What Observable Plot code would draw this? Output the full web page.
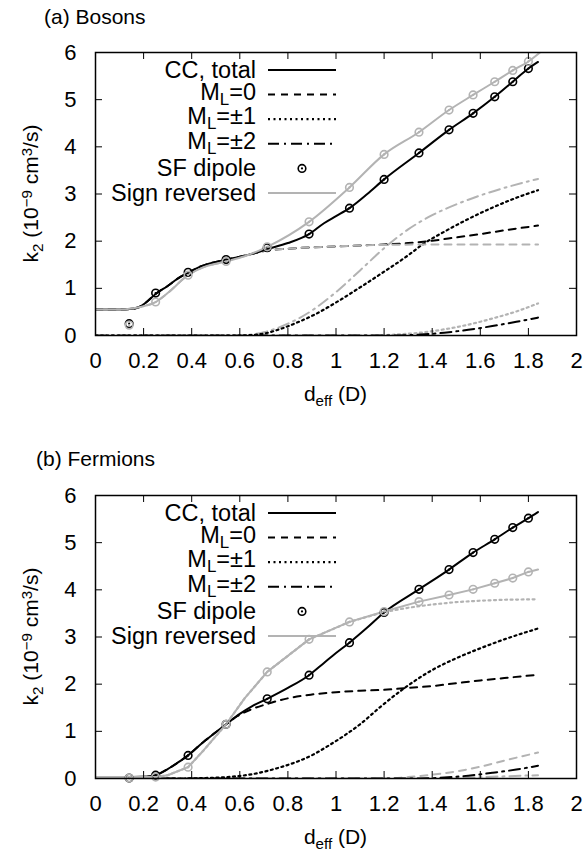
<!DOCTYPE html>
<html><head><meta charset="utf-8">
<script src="https://cdn.jsdelivr.net/npm/d3@7"></script>
<script src="https://cdn.jsdelivr.net/npm/@observablehq/plot@0.6"></script>
<style>
body{margin:0;background:#fff;font-family:"Liberation Sans",Arial,sans-serif}
#wrap{width:586px;height:856px;overflow:hidden}
#wrap svg{display:block}
</style></head>
<body><div id="wrap"></div>
<script>
// ---------- shared axes / ticks ----------
const xTicks = [0, 0.2, 0.4, 0.6, 0.8, 1, 1.2, 1.4, 1.6, 1.8, 2];
const xTickLabels = ["0","0.2","0.4","0.6","0.8","1","1.2","1.4","1.6","1.8","2"];
const yTicks = [0, 1, 2, 3, 4, 5, 6];
const yTickLabels = ["0","1","2","3","4","5","6"];
const legendLabels = ["CC, total", "M_L=0", "M_L=±1", "M_L=±2", "SF dipole", "Sign reversed"];
const panelTitles = ["(a) Bosons", "(b) Fermions"];

// SF dipole positions (deff, D)
const sfX = [0.14, 0.25, 0.385, 0.543, 0.714, 0.888, 1.056, 1.2, 1.345, 1.47, 1.57, 1.66, 1.735, 1.80];

// ---------- (a) Bosons ----------
const bosSF      = [0.25, 0.90, 1.34, 1.61, 1.86, 2.15, 2.70, 3.31, 3.87, 4.36, 4.71, 5.06, 5.38, 5.66];
const bosSFRev   = [0.22, 0.71, 1.28, 1.57, 1.88, 2.41, 3.14, 3.84, 4.31, 4.78, 5.10, 5.38, 5.62, 5.81];
const bosTotal   = [[0,0.55],[0.1,0.55],[0.14,0.56],[0.18,0.6],[0.21,0.7],[0.25,0.88],[0.3,1.05],[0.34,1.2],[0.385,1.33],[0.44,1.47],[0.5,1.56],[0.543,1.61],[0.6,1.67],[0.65,1.73],[0.714,1.83],[0.8,1.96],[0.888,2.15],[0.95,2.38],[1.0,2.53],[1.056,2.70],[1.13,3.0],[1.2,3.31],[1.345,3.87],[1.47,4.36],[1.57,4.71],[1.66,5.06],[1.735,5.38],[1.80,5.66],[1.84,5.8]];
const bosTotalRev= [[0,0.55],[0.1,0.55],[0.15,0.57],[0.2,0.62],[0.25,0.71],[0.3,0.9],[0.385,1.28],[0.45,1.45],[0.543,1.57],[0.62,1.68],[0.714,1.88],[0.888,2.41],[1.056,3.14],[1.2,3.84],[1.345,4.31],[1.47,4.78],[1.57,5.10],[1.66,5.38],[1.735,5.62],[1.80,5.81],[1.86,6.05]];
const bosML0     = [[0,0.55],[0.1,0.55],[0.14,0.56],[0.18,0.6],[0.21,0.7],[0.25,0.88],[0.3,1.05],[0.34,1.2],[0.385,1.33],[0.44,1.47],[0.5,1.56],[0.543,1.61],[0.6,1.67],[0.65,1.73],[0.714,1.8],[0.8,1.84],[0.9,1.87],[1.0,1.89],[1.1,1.91],[1.2,1.93],[1.3,1.96],[1.4,2.01],[1.5,2.08],[1.6,2.15],[1.7,2.23],[1.84,2.33]];
const bosML0Rev  = [[0,0.55],[0.1,0.55],[0.15,0.57],[0.2,0.62],[0.25,0.71],[0.3,0.9],[0.385,1.28],[0.45,1.45],[0.543,1.57],[0.6,1.66],[0.714,1.8],[0.8,1.84],[0.9,1.87],[1.0,1.89],[1.1,1.91],[1.2,1.92],[1.4,1.93],[1.6,1.93],[1.84,1.93]];
const bosML1     = [[0,0],[0.6,0],[0.65,0.01],[0.7,0.04],[0.77,0.14],[0.85,0.3],[0.91,0.44],[1.0,0.7],[1.1,1.02],[1.19,1.32],[1.3,1.7],[1.36,1.93],[1.45,2.2],[1.55,2.47],[1.65,2.71],[1.75,2.92],[1.84,3.08]];
const bosML1Rev  = [[0,0],[1.15,0],[1.25,0.02],[1.35,0.06],[1.45,0.13],[1.55,0.23],[1.65,0.36],[1.75,0.51],[1.84,0.68]];
const bosML2     = [[0,0],[1.25,0],[1.35,0.02],[1.45,0.06],[1.55,0.12],[1.65,0.2],[1.75,0.29],[1.84,0.38]];
const bosML2Rev  = [[0,0],[0.6,0],[0.65,0.02],[0.7,0.07],[0.8,0.25],[0.9,0.53],[1.0,0.92],[1.1,1.38],[1.2,1.85],[1.3,2.25],[1.4,2.55],[1.5,2.78],[1.6,2.97],[1.7,3.13],[1.84,3.32]];

// ---------- (b) Fermions ----------
const ferSF      = [0.01, 0.07, 0.49, 1.15, 1.69, 2.19, 2.88, 3.52, 4.01, 4.43, 4.79, 5.07, 5.32, 5.52];
const ferSFRev   = [0.01, 0.03, 0.24, 1.15, 2.26, 2.95, 3.32, 3.54, 3.75, 3.89, 4.01, 4.14, 4.25, 4.38];
const ferTotal   = [[0,0.03],[0.15,0.03],[0.22,0.04],[0.25,0.07],[0.3,0.2],[0.34,0.33],[0.385,0.49],[0.45,0.78],[0.5,0.98],[0.543,1.15],[0.6,1.37],[0.65,1.53],[0.714,1.69],[0.8,1.92],[0.888,2.19],[0.95,2.45],[1.0,2.66],[1.056,2.88],[1.13,3.2],[1.2,3.52],[1.345,4.01],[1.47,4.43],[1.57,4.79],[1.66,5.07],[1.735,5.32],[1.80,5.52],[1.84,5.65]];
const ferTotalRev= [[0,0.03],[0.25,0.03],[0.3,0.07],[0.385,0.24],[0.45,0.6],[0.543,1.15],[0.62,1.7],[0.714,2.26],[0.888,2.95],[1.056,3.32],[1.2,3.54],[1.345,3.75],[1.47,3.89],[1.57,4.01],[1.66,4.14],[1.735,4.25],[1.80,4.38],[1.84,4.43]];
const ferML0     = [[0,0.03],[0.15,0.03],[0.22,0.04],[0.25,0.07],[0.3,0.2],[0.34,0.33],[0.385,0.49],[0.45,0.78],[0.5,0.98],[0.543,1.15],[0.589,1.32],[0.65,1.47],[0.714,1.58],[0.8,1.7],[0.9,1.78],[1.0,1.83],[1.1,1.86],[1.2,1.88],[1.3,1.92],[1.4,1.96],[1.5,2.02],[1.6,2.08],[1.7,2.13],[1.84,2.2]];
const ferML0Rev  = [[0,0],[1.2,0],[1.3,0.03],[1.4,0.08],[1.5,0.15],[1.6,0.25],[1.7,0.38],[1.84,0.55]];
const ferML1     = [[0,0],[0.35,0],[0.45,0.01],[0.55,0.03],[0.65,0.09],[0.77,0.24],[0.85,0.38],[0.91,0.52],[0.97,0.7],[1.046,0.95],[1.1,1.15],[1.185,1.52],[1.28,1.9],[1.4,2.3],[1.5,2.55],[1.6,2.76],[1.7,2.95],[1.84,3.18]];
const ferML1Rev  = [[0,0.03],[0.25,0.03],[0.3,0.07],[0.385,0.24],[0.45,0.6],[0.543,1.15],[0.62,1.7],[0.714,2.26],[0.888,2.95],[1.056,3.32],[1.2,3.53],[1.3,3.62],[1.4,3.69],[1.5,3.74],[1.6,3.77],[1.7,3.79],[1.84,3.8]];
const ferML2     = [[0,0],[1.35,0],[1.45,0.02],[1.55,0.06],[1.65,0.12],[1.75,0.19],[1.84,0.27]];
const ferML2Rev  = [[0,0],[1.4,0],[1.6,0.03],[1.84,0.07]];

// ---------- styles ----------
const GRAY = "#b3b3b3";
const styles = {
  solid:   {dash: null, width: 2},
  dashed:  {dash: "7,6", width: 2},
  dotted:  {dash: "2,3.5", width: 2.2},
  dashdot: {dash: "11,5,2,5", width: 2}
};

const W = 586, H = 428, ML = 95, MR = 10;
const FONT = "'Liberation Sans', Arial, Helvetica, sans-serif";
const FS = 22, LEG_FS = 23.5, TITLE_FS = 21;

function addRich(sel, str) {
  const parts = str.split(/([_^][^\s/=()]+)/).filter(s => s.length);
  let shift = 0;
  for (const p of parts) {
    if (p[0] === "_" || p[0] === "^") {
      const d = p[0] === "_" ? 0.3 : -0.42;
      sel.append("tspan").attr("dy", (d - shift) + "em").attr("font-size", "72%").text(p.slice(1));
      shift = d;
    } else {
      const t = sel.append("tspan").text(p);
      if (shift !== 0) { t.attr("dy", (-shift * 0.72) + "em"); shift = 0; }
    }
  }
}

function drawPanel({mt, mb, title, titleX, titleBase, lines, sfB, sfG}) {
  const frameH = H - mt - mb, frameW = W - ML - MR;
  const marks = [];
  for (const L of lines) {
    const st = styles[L.style];
    marks.push(Plot.line(L.data, {x: d => d[0], y: d => d[1], stroke: L.color, strokeWidth: st.width,
      strokeDasharray: st.dash, curve: L.curve || "monotone-x", clip: true}));
  }
  const blk = sfX.map((x, i) => ({x, y: sfB[i]}));
  const gry = sfX.map((x, i) => ({x, y: sfG[i]}));
  marks.push(Plot.dot(blk, {x: "x", y: "y", r: 3.8, stroke: "#000", strokeWidth: 1.6, fill: "none"}));
  marks.push(Plot.dot(blk, {x: "x", y: "y", r: 1.1, fill: "#000"}));
  marks.push(Plot.dot(gry, {x: "x", y: "y", r: 3.8, stroke: GRAY, strokeWidth: 1.6, fill: "none"}));
  marks.push(Plot.dot(gry, {x: "x", y: "y", r: 1.1, fill: GRAY}));
  const inner = xTicks.slice(1, -1), innerY = yTicks.slice(1, -1);
  marks.push(Plot.ruleX(inner, {x: d => d, insetTop: frameH - 7, stroke: "#000", strokeWidth: 1}));
  marks.push(Plot.ruleX(inner, {x: d => d, insetBottom: frameH - 7, stroke: "#000", strokeWidth: 1}));
  marks.push(Plot.ruleY(innerY, {y: d => d, insetRight: frameW - 7, stroke: "#000", strokeWidth: 1}));
  marks.push(Plot.ruleY(innerY, {y: d => d, insetLeft: frameW - 7, stroke: "#000", strokeWidth: 1}));
  marks.push(Plot.frame({stroke: "#000", strokeWidth: 1.5}));
  marks.push(Plot.axisX(xTicks, {tickSize: 0, tickPadding: 17, tickFormat: d => xTickLabels[xTicks.indexOf(d)], label: null}));
  marks.push(Plot.axisY(yTicks, {tickSize: 0, tickPadding: 19, tickFormat: d => yTickLabels[yTicks.indexOf(d)], label: null}));

  const svg = Plot.plot({
    width: W, height: H, marginLeft: ML, marginRight: MR, marginTop: mt, marginBottom: mb,
    x: {domain: [0, 2]}, y: {domain: [0, 6]},
    style: {fontFamily: FONT, fontSize: FS + "px", background: "#fff", color: "#000", overflow: "visible"},
    marks
  });
  const s = d3.select(svg);
  const g = s.append("g").attr("font-family", FONT).attr("font-size", FS).attr("fill", "#000");
  g.append("text").attr("x", titleX).attr("y", titleBase).attr("text-anchor", "start").attr("font-size", TITLE_FS).text(title);
  const yl = g.append("text").attr("transform", `translate(38,${mt + frameH / 2}) rotate(-90)`).attr("text-anchor", "middle").attr("font-size", 21);
  addRich(yl, "k_2 (10^−9 cm^3/s)");
  const xl = g.append("text").attr("x", ML + frameW / 2).attr("y", H - mb + 66).attr("text-anchor", "middle").attr("font-size", 21);
  addRich(xl, "d_eff (D)");
  const lg = g.append("g").attr("font-size", LEG_FS);
  const kinds = ["solid", "dashed", "dotted", "dashdot", null, "solid"];
  legendLabels.forEach((lab, i) => {
    const cy = mt + 18 + 24.6 * i;
    const t = lg.append("text").attr("x", 256).attr("y", cy + 8 - (lab.includes("_") ? 3 : 0)).attr("text-anchor", "end");
    addRich(t, lab);
    if (kinds[i]) {
      const st = styles[kinds[i]];
      lg.append("line").attr("x1", 268).attr("x2", 336).attr("y1", cy).attr("y2", cy)
        .attr("stroke", i === 5 ? GRAY : "#000").attr("stroke-width", st.width)
        .attr("stroke-dasharray", st.dash);
    } else {
      lg.append("circle").attr("cx", 302).attr("cy", cy).attr("r", 3.8).attr("fill", "none").attr("stroke", "#000").attr("stroke-width", 1.6);
      lg.append("circle").attr("cx", 302).attr("cy", cy).attr("r", 1.1).attr("fill", "#000");
    }
  });
  return svg;
}

const wrap = document.getElementById("wrap");
wrap.appendChild(drawPanel({
  mt: 52, mb: 93, title: panelTitles[0], titleX: 44, titleBase: 24,
  sfB: bosSF, sfG: bosSFRev,
  lines: [
    {data: bosML1Rev, style: "dotted", color: GRAY},
    {data: bosML2, style: "dashdot", color: "#000"},
    {data: bosML2Rev, style: "dashdot", color: GRAY},
    {data: bosML1, style: "dotted", color: "#000"},
    {data: bosML0, style: "dashed", color: "#000"},
    {data: bosML0Rev, style: "dashed", color: GRAY},
    {data: bosTotal, style: "solid", color: "#000"},
    {data: bosTotalRev, style: "solid", color: GRAY}
  ]
}));
wrap.appendChild(drawPanel({
  mt: 67, mb: 78, title: panelTitles[1], titleX: 36, titleBase: 38,
  sfB: ferSF, sfG: ferSFRev,
  lines: [
    {data: ferML2Rev, style: "dashdot", color: GRAY},
    {data: ferML0Rev, style: "dashed", color: GRAY},
    {data: ferML2, style: "dashdot", color: "#000"},
    {data: ferML1, style: "dotted", color: "#000"},
    {data: ferML0, style: "dashed", color: "#000"},
    {data: ferML1Rev, style: "dotted", color: GRAY, curve: "linear"},
    {data: ferTotal, style: "solid", color: "#000"},
    {data: ferTotalRev, style: "solid", color: GRAY, curve: "linear"}
  ]
}));
</script>
</body></html>
